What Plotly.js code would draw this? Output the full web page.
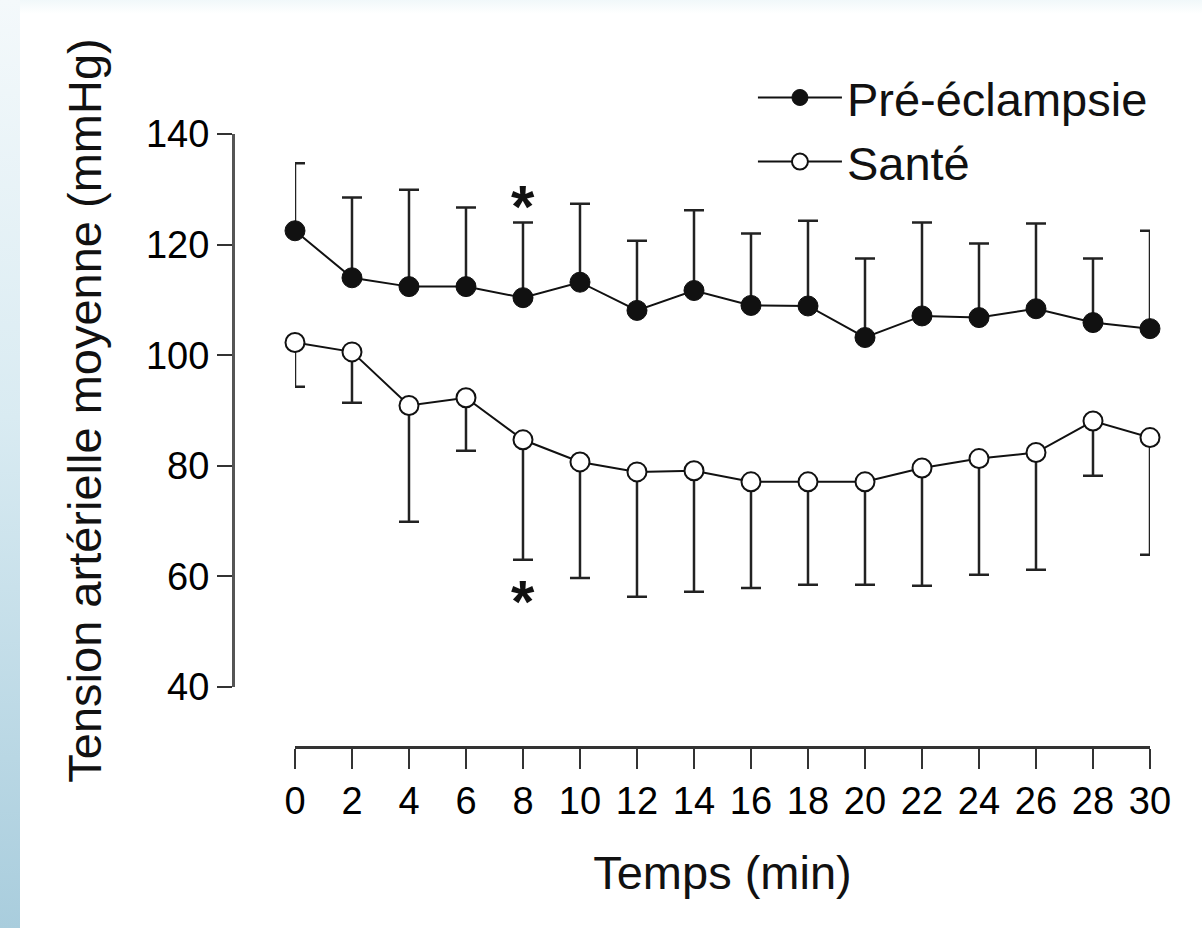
<!DOCTYPE html>
<html>
<head>
<meta charset="utf-8">
<script src="https://cdn.plot.ly/plotly-3.0.1.min.js"></script>
<style>
  html, body { margin: 0; padding: 0; background: #ffffff; }
  #wrap { position: relative; width: 1202px; height: 928px; overflow: hidden; background: #ffffff; }
  #strip { position: absolute; left: 0; top: 0; width: 20px; height: 928px;
           background: linear-gradient(to bottom, #f4f9fb 0%, #d9ebf2 45%, #a9cddd 100%); }
  #topstrip { position: absolute; left: 0; top: 0; width: 1202px; height: 14px;
           background: linear-gradient(to bottom, #f1f8fa, #ffffff); }
  #chart { position: absolute; left: 0; top: 0; width: 1202px; height: 928px; }
</style>
</head>
<body>
<div id="wrap">
  <div id="topstrip"></div>
  <div id="strip"></div>
  <div id="chart"></div>
</div>
<script>
// Time points (min)
const timeMin = [0, 2, 4, 6, 8, 10, 12, 14, 16, 18, 20, 22, 24, 26, 28, 30];
// Pré-éclampsie: mean and upper end of error bar (mmHg)
const preMean  = [122.5, 114.0, 112.4, 112.4, 110.4, 113.2, 108.1, 111.7, 109.0, 108.9, 103.2, 107.1, 106.8, 108.4, 105.9, 104.8];
const preUpper = [134.7, 128.5, 129.9, 126.7, 124.0, 127.4, 120.7, 126.2, 122.0, 124.3, 117.5, 124.0, 120.2, 123.8, 117.5, 122.5];
// Santé: mean and lower end of error bar (mmHg)
const santeMean  = [102.3, 100.6, 90.9, 92.3, 84.7, 80.7, 78.9, 79.1, 77.1, 77.1, 77.1, 79.6, 81.3, 82.4, 88.1, 85.1];
const santeLower = [94.3, 91.4, 69.9, 82.7, 63.0, 59.7, 56.3, 57.2, 57.9, 58.5, 58.5, 58.3, 60.3, 61.2, 78.2, 63.9];
// Tick values
const xTicks = [0, 2, 4, 6, 8, 10, 12, 14, 16, 18, 20, 22, 24, 26, 28, 30];
const yTicks = [40, 60, 80, 100, 120, 140];
// Significance markers
const starTimes = [8, 8];
const starValues = [126.9, 55.4];

const FONT = 'Liberation Sans, Arial, Helvetica, sans-serif';
const INK = '#111111';

const preErrPlus = preUpper.map((u, i) => +(u - preMean[i]).toFixed(2));
const santeErrMinus = santeLower.map((l, i) => +(santeMean[i] - l).toFixed(2));
const zeros = timeMin.map(() => 0);

const tracePre = {
  x: timeMin, y: preMean, name: 'Pré-éclampsie',
  type: 'scatter', mode: 'lines+markers', cliponaxis: false,
  line: { color: INK, width: 2 },
  marker: { symbol: 'circle', size: 20, color: INK, line: { color: INK, width: 1 } },
  error_y: { type: 'data', symmetric: false, array: preErrPlus, arrayminus: zeros,
             color: '#222222', thickness: 2.5, width: 10 }
};
const traceSante = {
  x: timeMin, y: santeMean, name: 'Santé',
  type: 'scatter', mode: 'lines+markers', cliponaxis: false,
  line: { color: INK, width: 2 },
  marker: { symbol: 'circle', size: 19, color: '#ffffff', line: { color: INK, width: 2 } },
  error_y: { type: 'data', symmetric: false, array: zeros, arrayminus: santeErrMinus,
             color: '#222222', thickness: 2.5, width: 10 }
};

const layout = {
  width: 1202, height: 928,
  margin: { l: 233, r: 52, t: 134, b: 181, pad: 0 },
  paper_bgcolor: 'rgba(0,0,0,0)', plot_bgcolor: 'rgba(0,0,0,0)',
  font: { family: FONT, color: INK },
  showlegend: true,
  legend: {
    x: 0.567, y: 1.12, xanchor: 'left', yanchor: 'top',
    font: { family: FONT, size: 47, color: INK },
    bgcolor: 'rgba(0,0,0,0)', traceorder: 'normal', tracegroupgap: 0,
    itemwidth: 84
  },
  xaxis: {
    domain: [0.0676, 1], range: [0, 30], anchor: 'free', position: 0,
    tickmode: 'array', tickvals: xTicks, ticktext: xTicks.map(String),
    showline: true, linecolor: '#333333', linewidth: 2.5,
    ticks: 'outside', ticklen: 20, tickwidth: 2, tickcolor: '#333333',
    showgrid: false, zeroline: false,
    tickfont: { family: FONT, size: 38, color: '#000000' },
    title: { text: 'Temps (min)', font: { family: FONT, size: 47, color: INK }, standoff: 34 }
  },
  yaxis: {
    domain: [0.0979, 1], range: [40, 140], anchor: 'free', position: 0,
    tickmode: 'array', tickvals: yTicks, ticktext: yTicks.map(String),
    showline: true, linecolor: '#555555', linewidth: 2.5,
    ticks: 'outside', ticklen: 15, tickwidth: 2, tickcolor: '#333333',
    showgrid: false, zeroline: false,
    tickfont: { family: FONT, size: 38, color: '#000000' },
    title: { text: 'Tension artérielle moyenne (mmHg)', font: { family: FONT, size: 47, color: INK }, standoff: 28 }
  },
  annotations: starTimes.map((t, i) => ({
    x: t, y: starValues[i], xref: 'x', yref: 'y', text: '<b>*</b>', showarrow: false,
    font: { family: FONT, size: 60, color: INK }, xanchor: 'center', yanchor: 'middle'
  }))
};

Plotly.newPlot('chart', [tracePre, traceSante], layout, { displayModeBar: false, staticPlot: true });
</script>
</body>
</html>
